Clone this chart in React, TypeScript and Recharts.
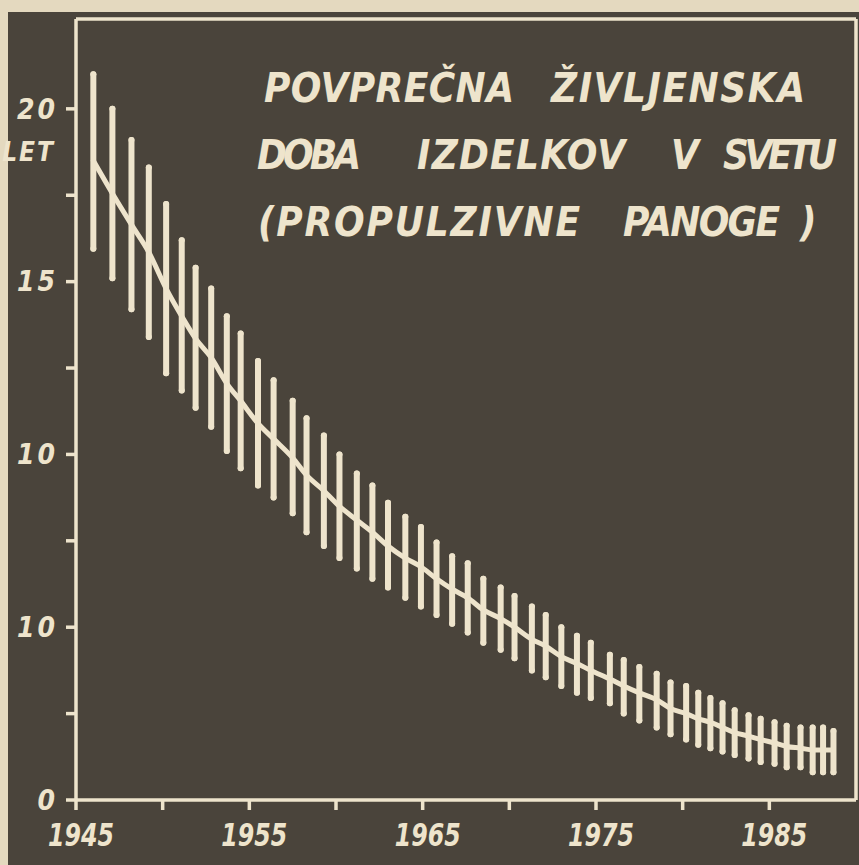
import React from "react";
import { ComposedChart, Line, ErrorBar, XAxis, YAxis, ReferenceLine } from "recharts";

// ---- data ----
const years = [
  1946.0, 1947.1, 1948.2, 1949.2, 1950.2, 1951.1, 1951.9, 1952.8, 1953.7, 1954.5,
  1955.5, 1956.4, 1957.5, 1958.3, 1959.3, 1960.2, 1961.2, 1962.1, 1963.0, 1964.0,
  1964.9, 1965.8, 1966.7, 1967.6, 1968.5, 1969.5, 1970.3, 1971.3, 1972.1, 1973.0,
  1973.9, 1974.7, 1975.8, 1976.6, 1977.5, 1978.5, 1979.3, 1980.2, 1980.9, 1981.6,
  1982.3, 1983.0, 1983.8, 1984.5, 1985.3, 1986.0, 1986.8, 1987.5, 1988.1, 1988.7,
];
const highs = [
  21.0, 20.0, 19.1, 18.3, 17.25, 16.2, 15.4, 14.8, 14.0, 13.5,
  12.7, 12.15, 11.55, 11.05, 10.55, 10.0, 9.45, 9.1, 8.6, 8.2,
  7.9, 7.45, 7.05, 6.85, 6.4, 6.15, 5.9, 5.6, 5.35, 5.0,
  4.75, 4.55, 4.2, 4.05, 3.85, 3.65, 3.4, 3.3, 3.1, 2.95,
  2.8, 2.6, 2.45, 2.35, 2.25, 2.15, 2.1, 2.1, 2.1, 2.0,
];
const lows = [
  15.95, 15.1, 14.2, 13.4, 12.35, 11.85, 11.35, 10.8, 10.1, 9.6,
  9.1, 8.75, 8.3, 7.75, 7.35, 7.0, 6.7, 6.4, 6.15, 5.85,
  5.6, 5.35, 5.1, 4.85, 4.55, 4.35, 4.1, 3.75, 3.55, 3.3,
  3.1, 2.95, 2.8, 2.5, 2.3, 2.1, 1.9, 1.75, 1.6, 1.5,
  1.4, 1.3, 1.2, 1.1, 1.05, 0.95, 0.95, 0.8, 0.8, 0.8,
];
const mids = [
  18.5, 17.55, 16.65, 15.85, 14.8, 14.0, 13.35, 12.8, 12.05, 11.55,
  10.9, 10.45, 9.9, 9.4, 8.95, 8.5, 8.1, 7.75, 7.35, 7.0,
  6.75, 6.4, 6.1, 5.85, 5.5, 5.25, 5.0, 4.65, 4.45, 4.15,
  3.95, 3.75, 3.5, 3.3, 3.1, 2.9, 2.65, 2.5, 2.35, 2.25,
  2.1, 1.95, 1.85, 1.75, 1.65, 1.55, 1.5, 1.45, 1.45, 1.45,
];

const xTicks = [1945, 1950, 1955, 1960, 1965, 1970, 1975, 1980, 1985];
const xTickLabels = ["1945", "", "1955", "", "1965", "", "1975", "", "1985"];
const yTicks = [0, 2.5, 5, 7.5, 10, 12.5, 15, 17.5, 20];
const yTickLabels = ["0", "", "10", "", "10", "", "15", "", "20"];
const xDomain = [1945, 1990];
const yDomain = [0, 22.6];

const unitLabel = "LET";
const titleWords = [
  ["POVPREČNA", "ŽIVLJENSKA"],
  ["DOBA", "IZDELKOV", "V", "SVETU"],
  ["(PROPULZIVNE", "PANOGE", ")"],
];

// ---- styling ----
const CREAM = "#eee4cc";
const DARK = "#4a443b";
const PAPER = "#e4d9bf";
const FONT = "'Liberation Sans Narrow', 'DejaVu Sans Condensed', 'Liberation Sans', sans-serif";

const rows = years.map((yr, i) => ({
  year: yr,
  mid: mids[i],
  err: [mids[i] - lows[i], highs[i] - mids[i]],
}));

const XTick = (props: any) => {
  const { x, y, payload } = props;
  const idx = xTicks.indexOf(payload.value);
  const label = idx >= 0 ? xTickLabels[idx] : "";
  if (!label) return <g />;
  return (
    <text x={x + 5 - 33} y={y} dy="0.35em" fill={CREAM}
      fontFamily={FONT} fontWeight="bold" fontStyle="italic" fontSize={32}
      textLength={66} lengthAdjust="spacingAndGlyphs">
      {label}
    </text>
  );
};

const YTick = (props: any) => {
  const { x, y, payload } = props;
  const idx = yTicks.indexOf(payload.value);
  const label = idx >= 0 ? yTickLabels[idx] : "";
  if (!label) return <g />;
  return (
    <text x={x} y={y} dy="0.35em" textAnchor="end" fill={CREAM}
      fontFamily={FONT} fontWeight="bold" fontStyle="italic" fontSize={28} letterSpacing={3}>
      {label}
    </text>
  );
};

// word placements for the hand-lettered title [x start, x end]
const titleLayout = [
  { y: 88, spans: [[264, 514], [551, 805]] },
  { y: 155, spans: [[257, 361], [417, 625], [671, 694], [723, 837]] },
  { y: 222, spans: [[258, 580], [623, 780], [800, 815]] },
];

export default function App() {
  return (
    <div style={{ position: "absolute", left: 0, top: 0, width: 859, height: 865, background: PAPER, overflow: "hidden" }}>
      <div style={{ position: "absolute", left: 8, top: 12, width: 851, height: 853, background: DARK }} />
      <div style={{ position: "absolute", left: 0, top: 0 }}>
        <ComposedChart width={859} height={865} data={rows}
          margin={{ top: 19, right: 3, bottom: 15, left: 16 }}>
          <XAxis dataKey="year" type="number" domain={xDomain} ticks={xTicks}
            allowDataOverflow interval={0}
            axisLine={{ stroke: CREAM, strokeWidth: 3.5 }}
            tickLine={{ stroke: CREAM, strokeWidth: 3.5 }}
            tickSize={10} tickMargin={25} height={50} tick={<XTick />} />
          <YAxis type="number" domain={yDomain} ticks={yTicks} allowDataOverflow interval={0}
            axisLine={{ stroke: CREAM, strokeWidth: 3.5 }}
            tickLine={{ stroke: CREAM, strokeWidth: 3.5 }}
            tickSize={10} tickMargin={8} width={60} tick={<YTick />} />
          <ReferenceLine y={yDomain[1]} stroke={CREAM} strokeWidth={3.5} />
          <ReferenceLine x={xDomain[1]} stroke={CREAM} strokeWidth={3.5} />
          <Line dataKey="mid" type="monotone" stroke={CREAM} strokeWidth={5}
            dot={false} isAnimationActive={false} strokeLinecap="round">
            <ErrorBar dataKey="err" direction="y" width={0} stroke={CREAM}
              strokeWidth={6} strokeLinecap="round" isAnimationActive={false} />
          </Line>
        </ComposedChart>
      </div>
      <svg width={859} height={865} style={{ position: "absolute", left: 0, top: 0, pointerEvents: "none" }}>
        <text x={55} y={152} dy="0.35em" textAnchor="end" fill={CREAM}
          fontFamily={FONT} fontWeight="bold" fontStyle="italic" fontSize={26} letterSpacing={2}>
          {unitLabel}
        </text>
        {titleLayout.map((row, r) =>
          row.spans.map((s, w) => (
            <text key={`${r}-${w}`} x={s[0]} y={row.y} dy="0.35em" fill={CREAM}
              fontFamily={FONT} fontWeight="bold" fontStyle="italic" fontSize={40}
              textLength={s[1] - s[0]} lengthAdjust="spacing">
              {titleWords[r][w]}
            </text>
          ))
        )}
      </svg>
    </div>
  );
}
